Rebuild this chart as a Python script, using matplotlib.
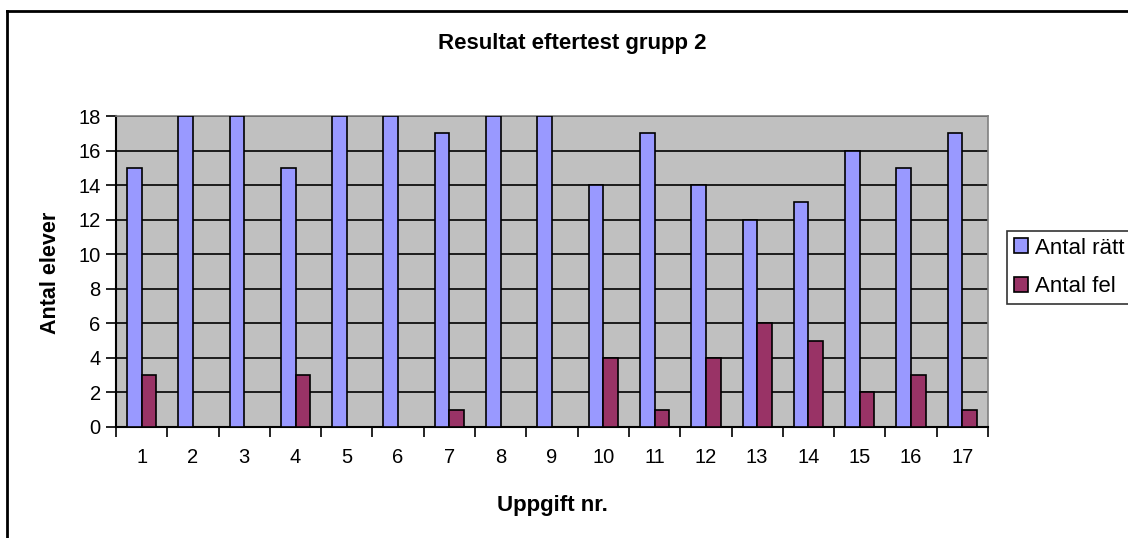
import numpy as np
import matplotlib.pyplot as plt
from matplotlib.lines import Line2D

plt.rcParams['font.family'] = ['Liberation Sans', 'DejaVu Sans']

uppgift = [str(i) for i in range(1, 18)]
antal_ratt = [15, 18, 18, 15, 18, 18, 17, 18, 18, 14, 17, 14, 12, 13, 16, 15, 17]
antal_fel = [3, 0, 0, 3, 0, 0, 1, 0, 0, 4, 1, 4, 6, 5, 2, 3, 1]

W, H = 1128, 538
fig = plt.figure(figsize=(W / 100, H / 100), dpi=100)
ax = fig.add_axes([116 / W, 1 - 427 / H, (988 - 116) / W, (427 - 116) / H])
ax.set_facecolor('#C0C0C0')

x = np.arange(len(uppgift))
w = 1 / 3.5
ax.bar(x - w / 2, antal_ratt, w, color='#9999FF', edgecolor='black', linewidth=1.2,
       label='Antal rätt', zorder=3)
ax.bar(x + w / 2, antal_fel, w, color='#993366', edgecolor='black', linewidth=1.2,
       label='Antal fel', zorder=3)

ax.set_xlim(-0.5, len(uppgift) - 0.5)
ax.set_ylim(0, 18)
ax.set_yticks(range(0, 19, 2))
ax.yaxis.grid(True, color='black', linewidth=1.2, zorder=1)
ax.set_axisbelow(True)

# category ticks sit between groups, labels in the middle
ax.set_xticks(np.arange(-0.5, len(uppgift), 1))
ax.set_xticklabels([])
ax.set_xticks(x, minor=True)
ax.set_xticklabels(uppgift, minor=True)
ax.tick_params(axis='x', which='major', length=7, width=1.2, direction='out')
ax.tick_params(axis='x', which='minor', length=0, pad=15, labelsize=14.5)
ax.tick_params(axis='y', length=7, width=1.2, direction='out', labelsize=14.5, pad=4)

for s in ['top', 'right']:
    ax.spines[s].set_color('#808080')
    ax.spines[s].set_linewidth(1.2)
for s in ['left', 'bottom']:
    ax.spines[s].set_color('black')
    ax.spines[s].set_linewidth(1.5)

fig.text(572 / W, 1 - 43 / H, 'Resultat eftertest grupp 2', ha='center', va='center',
         fontsize=16, fontweight='bold')
fig.text(50 / W, 1 - 273 / H, 'Antal elever', ha='center', va='center',
         rotation=90, fontsize=15.5, fontweight='bold')
fig.text(552 / W, 1 - 506 / H, 'Uppgift nr.', ha='center', va='center',
         fontsize=16, fontweight='bold')

leg = fig.legend(loc='upper left', bbox_to_anchor=(1007 / W, 1 - 231 / H),
                 fontsize=16, frameon=True, fancybox=False, shadow=False,
                 handlelength=0.65, handleheight=0.65, handletextpad=0.3,
                 labelspacing=0.8, borderpad=0.3, borderaxespad=0)
leg.get_frame().set_edgecolor('black')
leg.get_frame().set_linewidth(1.2)

# outer chart border (only left and top visible in the crop)
fig.add_artist(Line2D([7 / W, 7 / W], [0, 1 - 11 / H], color='black', linewidth=2))
fig.add_artist(Line2D([7 / W, 1], [1 - 11 / H, 1 - 11 / H], color='black', linewidth=2))

fig.savefig('out.png', dpi=100)
